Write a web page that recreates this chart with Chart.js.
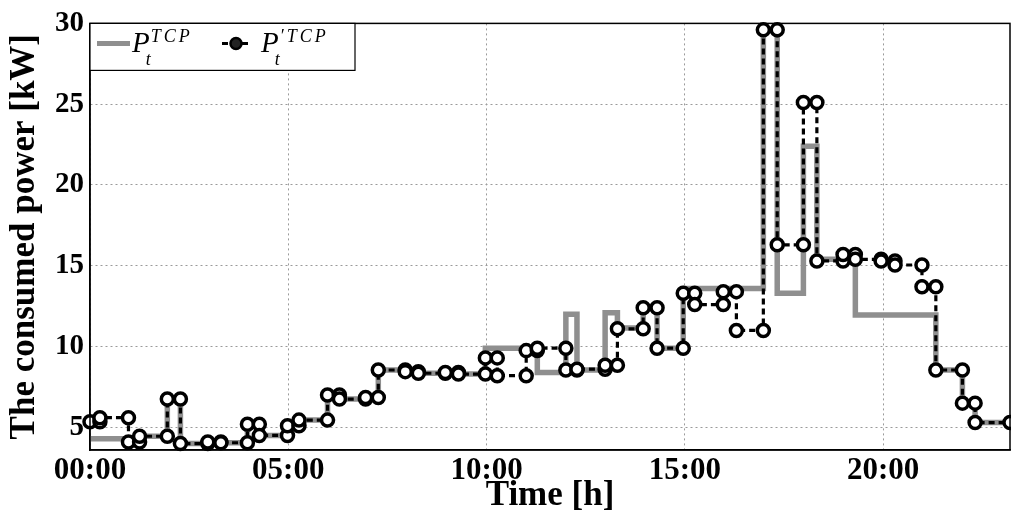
<!DOCTYPE html>
<html>
<head>
<meta charset="utf-8">
<script src="https://cdn.jsdelivr.net/npm/chart.js@4.4.1/dist/chart.umd.min.js"></script>
<style>
  html, body { margin: 0; padding: 0; background: #fff; }
  #wrap { width: 1011px; height: 518px; position: relative; }
</style>
</head>
<body>
<div id="wrap"><canvas id="chart"></canvas></div>
<script>
// --- data (hours, kW) ---
// stairs: each value holds from its start time until the next start time
const tEnd = 23.2;

const refStart = [0, 0.97, 1.25, 1.95, 2.28, 2.97, 3.3, 3.97, 4.27, 4.98, 5.27, 5.99, 6.29, 6.95,
  7.27, 7.95, 8.28, 8.96, 9.29, 9.97, 11.28, 12.0, 12.28, 12.99, 13.3, 13.95, 14.3, 14.96,
  16.98, 17.33, 17.99, 18.33, 19.3, 21.33, 22.0, 22.32];
const refValue = [4.3, 4.1, 4.45, 6.75, 4.0, 4.1, 4.05, 5.2, 4.5, 5.1, 5.45, 7.0, 6.75, 6.85,
  8.55, 8.45, 8.35, 8.4, 8.3, 9.9, 8.4, 12.0, 8.55, 12.1, 11.15, 12.5, 9.9, 13.6,
  29.6, 13.3, 22.4, 15.4, 11.95, 8.55, 6.5, 5.3];

const modStart = [0, 0.25, 0.97, 1.25, 1.95, 2.28, 2.97, 3.3, 3.97, 4.27, 4.98, 5.27, 5.99, 6.29, 6.95,
  7.27, 7.95, 8.28, 8.96, 9.29, 9.97, 10.27, 11.0, 11.28, 12.0, 12.28, 12.99, 13.3, 13.95, 14.3,
  14.96, 15.25, 15.97, 16.3, 16.98, 17.33, 17.99, 18.33, 18.99, 19.3, 19.95, 20.3, 20.98, 21.33,
  22.0, 22.32];
const modValue = [5.35, 5.6, 4.1, 4.45, 6.75, 4.0, 4.1, 4.05, 5.2, 4.5, 5.1, 5.45, 7.0, 6.75, 6.85,
  8.55, 8.45, 8.35, 8.4, 8.3, 9.3, 8.2, 9.75, 9.9, 8.55, 8.6, 8.85, 11.1, 12.4, 9.9,
  13.3, 12.6, 13.4, 11.0, 29.6, 16.3, 25.1, 15.3, 15.7, 15.4, 15.3, 15.05, 13.7, 8.55,
  6.5, 5.3];

const xTicks = [0, 5, 10, 15, 20];
const xTickLabels = ['00:00', '05:00', '10:00', '15:00', '20:00'];
const yTicks = [5, 10, 15, 20, 25, 30];

const FONT = "'Liberation Serif', 'Times New Roman', serif";

// stairs -> vertices (marker at both ends of every step, like matlab stairs)
function stairs(starts, values, end) {
  const pts = [];
  for (let i = 0; i < starts.length; i++) {
    const next = i + 1 < starts.length ? starts[i + 1] : end;
    pts.push({ x: starts[i], y: values[i] });
    pts.push({ x: next, y: values[i] });
  }
  return pts;
}

// box round the plot area
const framePlugin = {
  id: 'frame',
  afterDatasetsDraw(chart) {
    const { ctx, chartArea: a } = chart;
    ctx.save();
    ctx.strokeStyle = '#000';
    ctx.lineWidth = 1.5;
    ctx.strokeRect(a.left, a.top, a.right - a.left, a.bottom - a.top);
    ctx.restore();
  }
};

// legend with sub/superscripts
const legendPlugin = {
  id: 'mathLegend',
  afterDraw(chart) {
    const { ctx, chartArea: a } = chart;
    const x0 = a.left, y0 = a.top, w = 265, h = 47;
    ctx.save();
    ctx.fillStyle = '#fff';
    ctx.fillRect(x0, y0, w, h);
    ctx.strokeStyle = '#000';
    ctx.lineWidth = 1.2;
    ctx.strokeRect(x0, y0, w, h);

    const cy = y0 + 20;
    // grey sample
    ctx.strokeStyle = '#8f8f8f';
    ctx.lineWidth = 5;
    ctx.beginPath();
    ctx.moveTo(x0 + 7, cy); ctx.lineTo(x0 + 40, cy);
    ctx.stroke();
    // black dashed sample + marker
    ctx.strokeStyle = '#000';
    ctx.lineWidth = 3;
    ctx.setLineDash([6, 4]);
    ctx.beginPath();
    ctx.moveTo(x0 + 132, cy); ctx.lineTo(x0 + 160, cy);
    ctx.stroke();
    ctx.setLineDash([]);
    ctx.beginPath();
    ctx.arc(x0 + 146, cy, 5.5, 0, Math.PI * 2);
    ctx.fillStyle = '#222';
    ctx.fill();
    ctx.lineWidth = 2.5;
    ctx.stroke();

    function sym(x, sup) {
      ctx.fillStyle = '#000';
      ctx.textBaseline = 'alphabetic';
      ctx.font = "italic 29px " + FONT;
      ctx.fillText('P', x, cy + 9);
      const pw = ctx.measureText('P').width;
      ctx.font = "italic 18px " + FONT;
      ctx.fillText('t', x + pw - 4, cy + 22);
      ctx.letterSpacing = '3px';
      ctx.fillText(sup, x + pw + 1, cy - 1);
      ctx.letterSpacing = '0px';
    }
    sym(x0 + 42, 'TCP');
    sym(x0 + 171, '\u2032TCP');
    ctx.restore();
  }
};

new Chart(document.getElementById('chart'), {
  type: 'line',
  data: {
    datasets: [{
      label: "P'TCP",
      data: stairs(modStart, modValue, tEnd),
      borderColor: '#000',
      borderWidth: 3.2,
      borderDash: [6, 4],
      pointRadius: 6,
      pointBorderWidth: 3.5,
      pointBorderColor: '#000',
      pointBackgroundColor: '#fff',
      tension: 0,
      clip: false,
      order: 0
    }, {
      label: 'PTCP',
      data: stairs(refStart, refValue, tEnd),
      borderColor: '#8f8f8f',
      borderWidth: 5.5,
      pointRadius: 0,
      tension: 0,
      clip: false,
      order: 1
    }]
  },
  options: {
    responsive: true,
    maintainAspectRatio: false,
    animation: false,
    layout: { autoPadding: false, padding: { top: 19, right: 1, left: 0, bottom: 0 } },
    plugins: {
      legend: { display: false },
      tooltip: { enabled: false }
    },
    scales: {
      x: {
        type: 'linear',
        min: 0,
        max: tEnd,
        afterBuildTicks: s => { s.ticks = xTicks.map(v => ({ value: v })); },
        afterFit: s => { s.height = 68; s.paddingLeft = 0; s.paddingRight = 0; },
        ticks: {
          color: '#000',
          padding: 2,
          maxRotation: 0,
          font: { family: FONT, size: 31, weight: 'bold' },
          callback: (v, i) => xTickLabels[i]
        },
        grid: { color: '#9a9a9a', lineWidth: 1, drawTicks: false },
        border: { color: '#000', width: 1.5, dash: [2, 3] },
        title: {
          display: true,
          text: 'Time [h]',
          color: '#000',
          padding: { top: 0, bottom: 1 },
          font: { family: FONT, size: 35, weight: 'bold' }
        }
      },
      y: {
        type: 'linear',
        min: 3.6,
        max: 30,
        afterBuildTicks: s => { s.ticks = yTicks.map(v => ({ value: v })); },
        afterFit: s => { s.width = 90; },
        ticks: {
          color: '#000',
          padding: 6,
          font: { family: FONT, size: 29, weight: 'bold' }
        },
        grid: { color: '#9a9a9a', lineWidth: 1, drawTicks: false },
        border: { color: '#000', width: 1.5, dash: [2, 3] },
        title: {
          display: true,
          text: 'The consumed power [kW]',
          color: '#000',
          padding: { top: 4, bottom: 0 },
          font: { family: FONT, size: 35, weight: 'bold' }
        }
      }
    }
  },
  plugins: [framePlugin, legendPlugin]
});
</script>
</body>
</html>
